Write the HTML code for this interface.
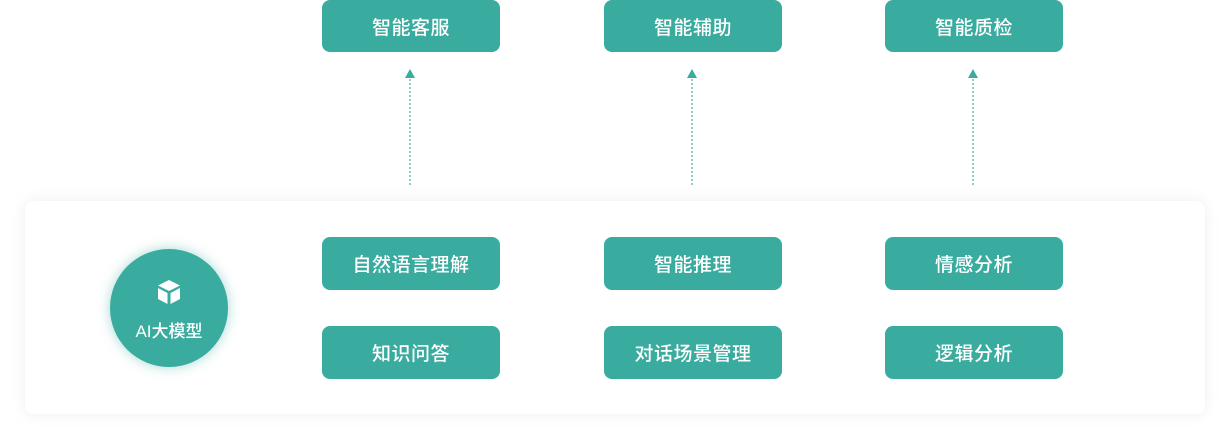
<!DOCTYPE html>
<html><head><meta charset="utf-8"><style>
body{margin:0;width:1231px;height:441px;background:#fff;position:relative;overflow:hidden;font-family:"Liberation Sans","Noto Sans CJK SC",sans-serif}
.panel{position:absolute;left:25px;top:201px;width:1180px;height:213px;background:#fff;border-radius:8px;box-shadow:0 0 14px rgba(150,165,185,0.18)}
.b{position:absolute;width:178px;height:53px;background:#3aab9f;border-radius:8px;color:#fff;font-size:19px;font-weight:500;display:flex;align-items:center;justify-content:center;letter-spacing:0.5px}
.c{position:absolute;left:110px;top:249px;width:118px;height:118px;border-radius:50%;background:#3aab9f;box-shadow:0 0 12px rgba(58,171,159,0.45);color:#fff;text-align:center;font-size:17px;font-weight:500}
.ln{position:absolute;width:0;border-left:2px dotted #8fd0c6;top:79px;height:106px}
.tr{position:absolute;top:69px;width:0;height:0;border-left:5px solid transparent;border-right:5px solid transparent;border-bottom:9px solid #3aab9f}
</style></head><body>
<div class="panel"></div>
<div class="b" style="left:322px;top:0;height:52px">智能客服</div>
<div class="b" style="left:604px;top:0;height:52px">智能辅助</div>
<div class="b" style="left:885px;top:0;height:52px">智能质检</div>
<div class="tr" style="left:405px"></div><div class="ln" style="left:409px"></div>
<div class="tr" style="left:687px"></div><div class="ln" style="left:691px"></div>
<div class="tr" style="left:968px"></div><div class="ln" style="left:972px"></div>
<div class="b" style="left:322px;top:237px">自然语言理解</div>
<div class="b" style="left:604px;top:237px">智能推理</div>
<div class="b" style="left:885px;top:237px">情感分析</div>
<div class="b" style="left:322px;top:326px">知识问答</div>
<div class="b" style="left:604px;top:326px">对话场景管理</div>
<div class="b" style="left:885px;top:326px">逻辑分析</div>
<div class="c">
<svg width="28" height="28" viewBox="0 0 28 28" style="position:absolute;left:45px;top:29px">
<polygon points="14,2 25,7.5 14,13 3,7.5" fill="#fff"/>
<polygon points="3,10 12.5,15 12.5,26 3,21" fill="#fff"/>
<polygon points="25,10 15.5,15 15.5,26 25,21" fill="#fff"/>
</svg>
<div style="position:absolute;left:0;right:0;top:68px">AI大模型</div>
</div>
</body></html>
